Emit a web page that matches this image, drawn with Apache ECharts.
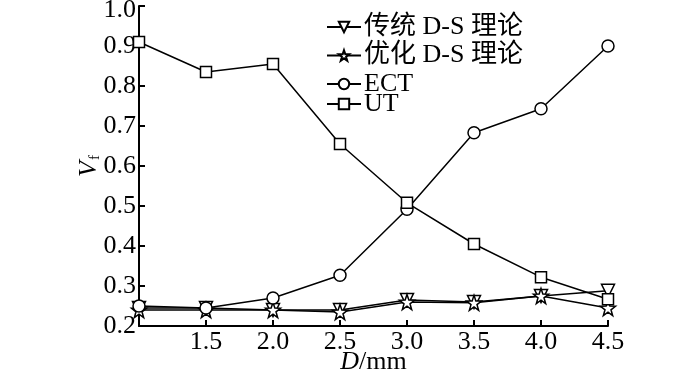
<!DOCTYPE html>
<html>
<head>
<meta charset="utf-8">
<script src="https://cdn.jsdelivr.net/npm/echarts@6/dist/echarts.min.js"></script>
<style>html,body{margin:0;padding:0;background:#fff}#c{width:700px;height:370px}</style>
</head>
<body>
<div id="c"></div>
<script>
const xValues = [1.0, 1.5, 2.0, 2.5, 3.0, 3.5, 4.0, 4.5];
const traditionalDS = [0.245, 0.245, 0.24, 0.24, 0.265, 0.26, 0.275, 0.288];
const optimizedDS = [0.24, 0.24, 0.24, 0.235, 0.26, 0.258, 0.275, 0.245];
const ectValues = [0.25, 0.245, 0.27, 0.327, 0.492, 0.683, 0.743, 0.90];
const utValues = [0.91, 0.835, 0.855, 0.655, 0.508, 0.405, 0.322, 0.267];
const seriesNames = ['传统 D-S 理论', '优化 D-S 理论', 'ECT', 'UT'];

const FONT = '"Liberation Serif", "Noto Sans CJK SC", serif';
const triDown = 'path://M0,0 L20,0 L10,17 Z';
const star = 'path://M10,0 L12.35,6.76 L19.51,6.91 L13.80,11.24 L15.88,18.09 L10,14 L4.12,18.09 L6.20,11.24 L0.49,6.91 L7.65,6.76 Z';

function pairs(vals){ return xValues.map((x,i)=>[x, vals[i]]); }
function mk(name, vals, symbol, size){
  return {
    name, type:'line', data: pairs(vals), symbol, symbolSize: size,
    lineStyle:{color:'#000', width:1.5},
    itemStyle:{color:'#fff', borderColor:'#000', borderWidth:1.5},
    emphasis:{disabled:true}, animation:false
  };
}
const legendText = {fontFamily:FONT, fontSize:26, color:'#000', lineHeight:26, padding:[0,0,0,-2]};

const chart = echarts.init(document.getElementById('c'), null, {renderer:'canvas'});
chart.setOption({
  animation:false,
  backgroundColor:'#fff',
  grid:{left:139, right:92, top:6, bottom:44, containLabel:false, outerBoundsMode:'none'},
  legend:[{
    orient:'vertical', left:321, top:9, itemWidth:34, itemHeight:13, itemGap:2.5,
    textStyle:legendText, data: seriesNames.slice(0,3)
  },{
    orient:'vertical', left:321, top:86, itemWidth:34, itemHeight:13, itemGap:0,
    textStyle:legendText, data: seriesNames.slice(3)
  }],
  xAxis:{
    type:'value', min:1.0, max:4.5, interval:0.5,
    name:'{i|D}{n|/mm}', nameLocation:'middle', nameGap:23, nameMoveOverlap:false,
    nameTextStyle:{rich:{
      i:{fontFamily:FONT, fontSize:26, fontStyle:'italic', color:'#000'},
      n:{fontFamily:FONT, fontSize:26, color:'#000'}
    }},
    axisLine:{lineStyle:{color:'#000', width:2}},
    axisTick:{inside:true, length:6, lineStyle:{color:'#000', width:2}},
    axisLabel:{fontFamily:FONT, fontSize:26, color:'#000', margin:3,
      formatter:v=> Math.abs(v-1.0)<1e-9 ? '' : v.toFixed(1)},
    splitLine:{show:false}
  },
  yAxis:{
    type:'value', min:0.2, max:1.0, interval:0.1,
    name:'{i|V}{s|f}', nameLocation:'middle', nameGap:36, nameRotate:90, nameMoveOverlap:false,
    nameTextStyle:{rich:{
      i:{fontFamily:FONT, fontSize:26, fontStyle:'italic', color:'#000'},
      s:{fontFamily:FONT, fontSize:15, color:'#000', verticalAlign:'bottom', padding:[12,0,0,1]}
    }},
    axisLine:{show:true, lineStyle:{color:'#000', width:2}},
    axisTick:{show:true, inside:true, length:6, lineStyle:{color:'#000', width:2}},
    axisLabel:{fontFamily:FONT, fontSize:26, color:'#000', margin:3,
      formatter:v=> Math.abs(v-1.0)<1e-9 ? '{t|1.0}' : v.toFixed(1),
      rich:{t:{fontFamily:FONT, fontSize:26, color:'#000', padding:[9,0,0,0]}}},
    splitLine:{show:false}
  },
  series:[
    mk(seriesNames[0], traditionalDS, triDown, 13),
    mk(seriesNames[1], optimizedDS, star, 15),
    mk(seriesNames[2], ectValues, 'circle', 12),
    mk(seriesNames[3], utValues, 'rect', 11)
  ]
});
</script>
</body>
</html>
